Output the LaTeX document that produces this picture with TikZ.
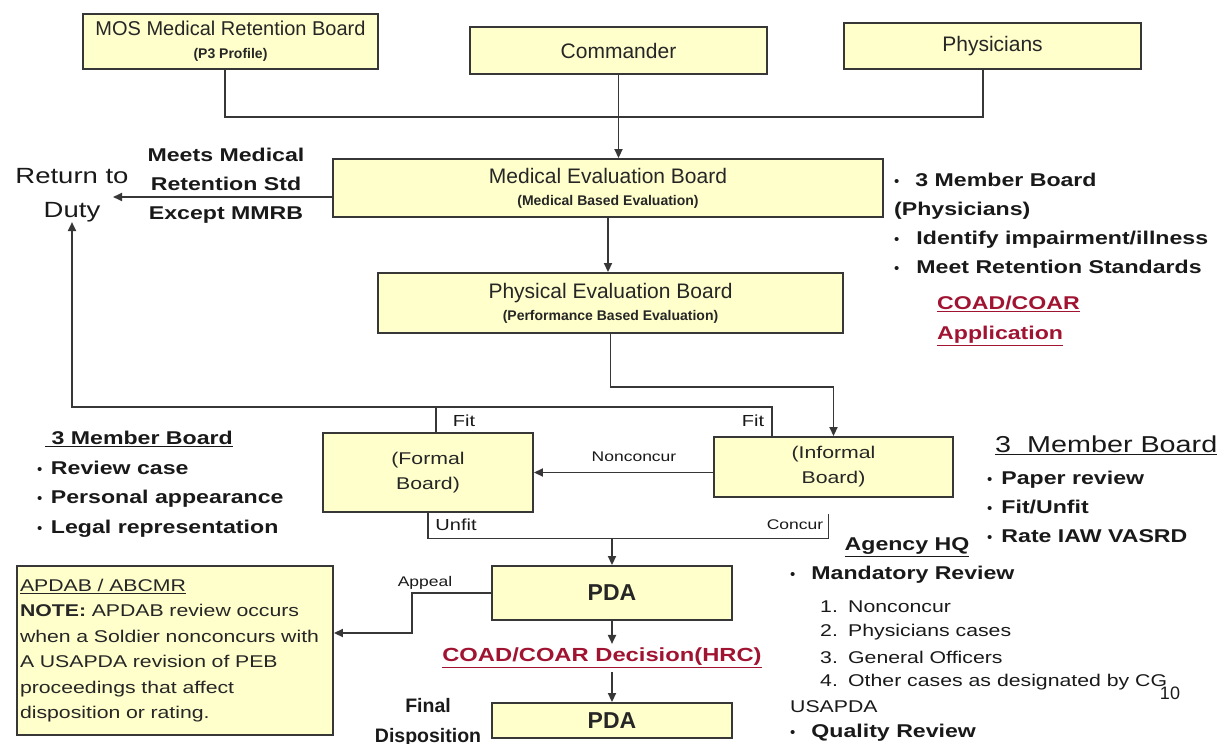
\documentclass[tikz,border=0pt]{standalone}
\usepackage{fontspec}
\setmainfont{Liberation Sans}
\newfontfamily\widesans{Liberation Sans}[FakeStretch=1.25]
\usetikzlibrary{arrows.meta,calc}
\definecolor{boardfill}{RGB}{255,255,204}
\definecolor{edgegray}{RGB}{55,55,55}
\definecolor{coadred}{RGB}{160,20,50}
\newcommand{\fsz}[2]{\fontsize{#1}{#2}\selectfont}
\newcommand{\bul}{{\normalfont\fsz{15}{15}\textbullet}}
\tikzset{
board/.style={draw=edgegray, line width=1.9pt, fill=boardfill, align=center, inner sep=2pt, text=black!85},
conn/.style={draw=edgegray, line width=1.8pt},
conarr/.style={conn, -{Triangle[length=9pt,width=8pt]}},
ann/.style={inner sep=0pt, text=black!90},
bignote/.style={ann, font={\widesans\bfseries\fsz{18.5}{29}}},
smallnote/.style={ann, font={\widesans\fsz{17}{20}}},
tag/.style={ann, font={\widesans\fsz{14}{16}}}}

\begin{document}
\begin{tikzpicture}[x=1pt, y=-1pt]
\useasboundingbox (0,0) rectangle (1219,744);

\node[board, minimum width=295pt, minimum height=55pt, font=\fsz{20}{23}] (mos) at (230.5,41.5) {MOS Medical Retention Board\\{\bfseries\fsz{14}{16}(P3 Profile)}};
\node[board, minimum width=297pt, minimum height=47pt, font=\fsz{21}{24}] (cmd) at (618.5,50.5) {Commander};
\node[board, minimum width=297pt, minimum height=46pt, font=\fsz{21}{24}] (phy) at (992.5,46) {Physicians};
\node[board, minimum width=550pt, minimum height=58pt, font=\fsz{21}{22}] (meb) at (608,188) {Medical Evaluation Board\\{\bfseries\fsz{14}{16}(Medical Based Evaluation)}};
\node[board, minimum width=465pt, minimum height=60pt, font=\fsz{21}{22}] (peb) at (610.5,303) {Physical Evaluation Board\\{\bfseries\fsz{14}{16}(Performance Based Evaluation)}};
\node[board, minimum width=210pt, minimum height=79pt, font={\widesans\fsz{17}{25}}] (formal) at (428,472.5) {(Formal\\Board)};
\node[board, minimum width=239pt, minimum height=60pt, font={\widesans\fsz{17}{25}}] (informal) at (833.5,467) {(Informal\\Board)};
\node[board, minimum width=240pt, minimum height=54pt, font=\bfseries\fsz{23}{26}] (pda) at (612,593) {PDA};
\node[board, minimum width=240pt, minimum height=35pt, font=\bfseries\fsz{23}{26}] (final) at (612,720.5) {PDA};
\node[board, minimum width=316pt, minimum height=169pt, text width=310pt, align=left, font={\widesans\fsz{17}{25.5}}] (apdab) at (175,650.5) {\underline{APDAB / ABCMR}\\\textbf{NOTE:} APDAB review occurs\\when a Soldier nonconcurs with\\A USAPDA revision of PEB\\proceedings that affect\\disposition or rating.};

\node[ann, font={\widesans\fsz{22}{34}}, align=center] (ret) at (72,195) {Return to\\Duty};
\node[bignote, align=center] (meets) at (226,186) {Meets Medical\\Retention Std\\Except MMRB};
\node[bignote, align=left, anchor=north west] (mebnote) at (894,173) {\bul\hspace{16pt}3 Member Board\\(Physicians)\\\bul\hspace{17pt}Identify impairment/illness\\\bul\hspace{17pt}Meet Retention Standards};
\node[bignote, text=coadred, font={\widesans\bfseries\fsz{18.5}{30}}, align=left, anchor=north west] (coadapp) at (937,296) {\underline{COAD/COAR}\\\underline{Application}};
\node[bignote, font={\widesans\bfseries\fsz{18.5}{29.6}}, align=left, anchor=north west] (formalnote) at (37,431) {\hspace{8pt}\underline{\ 3 Member Board}\\\bul\hspace{8.5pt}Review case\\\bul\hspace{8.5pt}Personal appearance\\\bul\hspace{8.5pt}Legal representation};
\node[ann, font={\widesans\fsz{23}{28}}, anchor=west] (infhead) at (995,445) {\underline{3\ \ Member Board}};
\node[bignote, align=left, anchor=north west] (infnote) at (987,471) {\bul\hspace{9pt}Paper review\\\bul\hspace{9pt}Fit/Unfit\\\bul\hspace{9pt}Rate IAW VASRD};
\node[bignote] (agency) at (907,547) {\underline{Agency HQ}};
\node[bignote, anchor=west] (mand) at (790,575) {\bul\hspace{16pt}Mandatory Review};
\foreach \txt [count=\n] in {Nonconcur, Physicians cases, General Officers, Other cases as designated by CG}
  \node[smallnote, anchor=west] (case\n) at (820,582+25*\n) {\makebox[28pt][l]{\n.}\txt};
\node[smallnote, anchor=west] (usapda) at (790,707) {USAPDA};
\node[bignote, anchor=west] (quality) at (790,733) {\bul\hspace{16pt}Quality Review};
\node[ann, font=\fsz{18}{18}] (slideno) at (1170,693) {10};
\node[ann, font={\bfseries\fsz{19.5}{30}}, align=center] (findisp) at (428,722) {Final\\Disposition};
\node[ann, text=coadred, font={\widesans\bfseries\fsz{19}{22}}, inner sep=4pt] (coaddec) at (602,658) {\underline{COAD/COAR Decision(HRC)}};

\node[ann, font={\widesans\fsz{16}{18}}] (fitl) at (464,421) {Fit};
\node[ann, font={\widesans\fsz{16}{18}}] (fitr) at (753,421) {Fit};
\node[ann, font={\widesans\fsz{16}{18}}] (unfit) at (456,525) {Unfit};
\node[tag] (concur) at (795,525) {Concur};
\node[tag] (noncon) at (634,457) {Nonconcur};
\node[tag] (appeal) at (425,583) {Appeal};

\coordinate (topbus) at (618,117);
\coordinate (rtd) at (113,197);
\coordinate (fitbus) at (0,407);
\coordinate (unfitbus) at (612,537.5);
\draw[conn] ($(mos.south)+(-5.5,0)$) |- (topbus) -| ($(phy.south)+(-9.5,0)$);
\draw[conarr] (cmd.south) -- (cmd.south |- meb.north);
\draw[conarr] ($(meb.west)+(0,9)$) -- (rtd);
\draw[conarr] (meb.south) -- (meb.south |- peb.north);
\draw[conarr] (peb.south) -- ++(0,53) -| (informal.north);
\draw[conarr] ($(informal.north west)+(59,0)$) |- (ret.south |- fitbus) -- (ret.south);
\draw[conn] ($(formal.north west)+(114,0)$) -- ($(formal.north west)+(114,-26)$);
\draw[conarr] (informal.west |- formal.east) -- (formal.east);
\draw[conn] (formal.south) -- ++(0,25.5) -| ($(informal.south)+(-5,16)$);
\draw[conarr] (unfitbus) -- (pda.north);
\draw[conarr] (pda.west) -- ++(-79,0) |- ($(apdab.east)+(0,-17.5)$);
\draw[conarr] (pda.south) -- (pda.south |- coaddec.north);
\draw[conarr] (final.north |- coaddec.south) -- (final.north);
\end{tikzpicture}
\end{document}
